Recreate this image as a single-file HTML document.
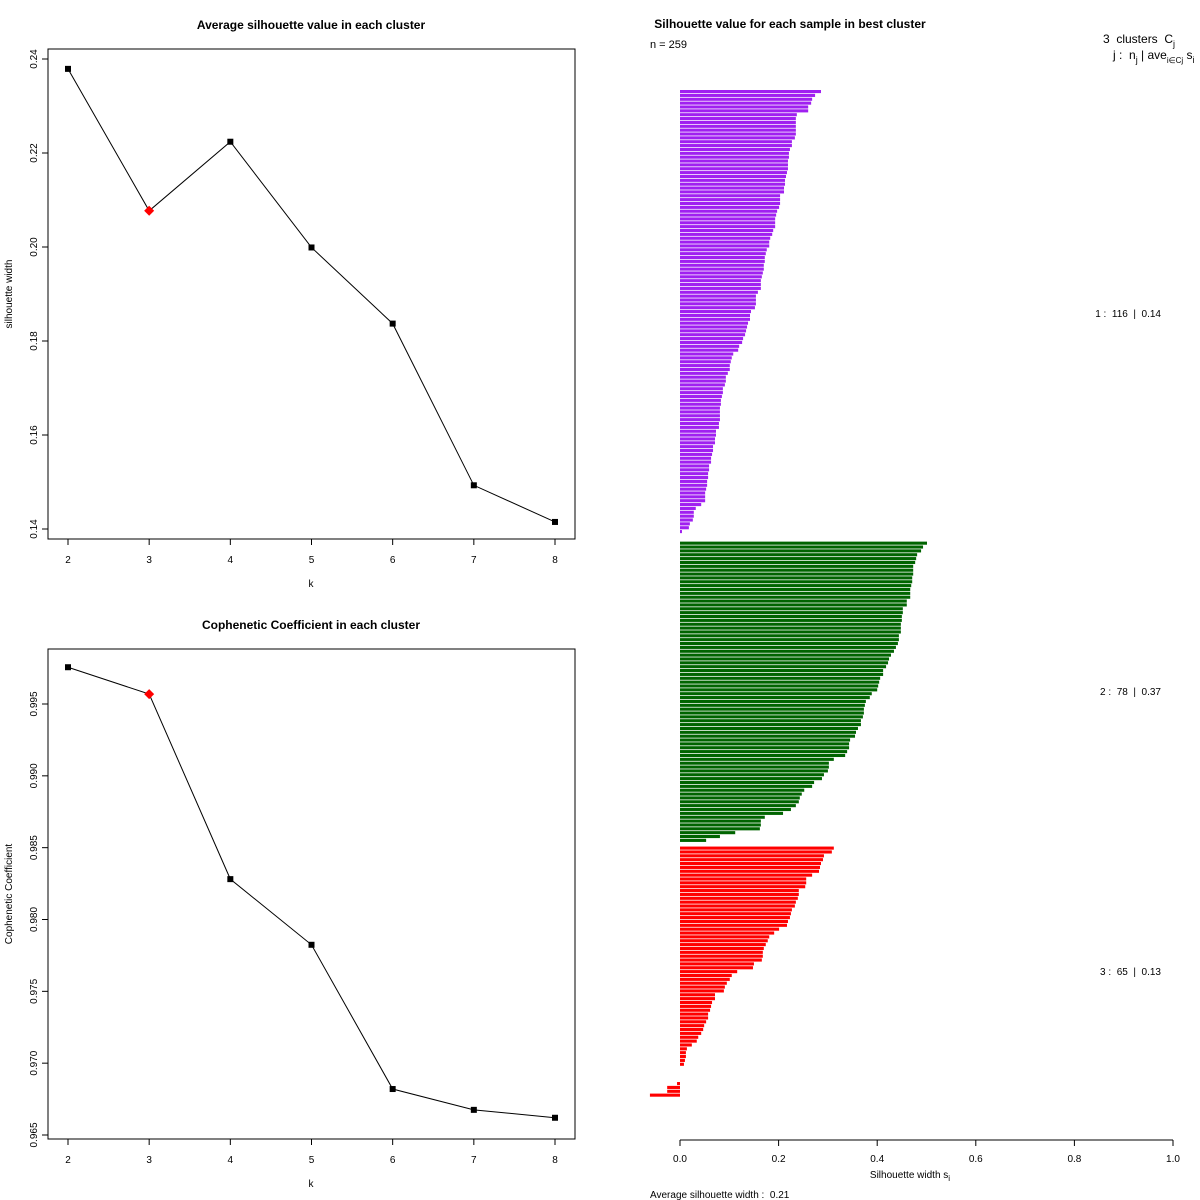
<!DOCTYPE html>
<html><head><meta charset="utf-8"><style>
body{margin:0;background:#fff}
svg{display:block;font-family:"Liberation Sans",sans-serif}
text{white-space:pre}
</style></head><body>
<svg id="c" width="1200" height="1200" viewBox="0 0 1200 1200" xmlns="http://www.w3.org/2000/svg"></svg>
<script>
const kVals=[2,3,4,5,6,7,8];
const silAvg=[0.2379,0.2077,0.2224,0.1999,0.1837,0.1493,0.1415];
const silTicks=[0.14,0.16,0.18,0.20,0.22,0.24];
const cophVals=[0.99756,0.99569,0.98281,0.97824,0.96820,0.96675,0.96620];
const cophTicks=[0.965,0.970,0.975,0.980,0.985,0.990,0.995];
const bestK=3;
const cluster1=[0.286,0.274,0.268,0.266,0.260,0.260,0.237,0.235,0.235,0.235,0.235,0.235,0.233,0.227,0.227,0.223,0.221,0.221,0.219,0.219,0.219,0.217,0.215,0.213,0.213,0.211,0.211,0.203,0.203,0.203,0.201,0.197,0.195,0.193,0.193,0.193,0.189,0.187,0.183,0.181,0.181,0.176,0.174,0.172,0.172,0.170,0.170,0.168,0.166,0.164,0.164,0.164,0.158,0.154,0.154,0.154,0.152,0.144,0.142,0.142,0.138,0.136,0.134,0.132,0.128,0.126,0.120,0.118,0.108,0.105,0.103,0.101,0.101,0.097,0.093,0.093,0.091,0.087,0.087,0.085,0.083,0.083,0.081,0.081,0.081,0.081,0.079,0.079,0.073,0.073,0.071,0.071,0.067,0.067,0.065,0.063,0.063,0.059,0.059,0.057,0.057,0.055,0.055,0.053,0.051,0.051,0.051,0.043,0.032,0.028,0.028,0.026,0.020,0.018,0.004,0,-0.006].slice(0,116);
const cluster2=[0.501,0.493,0.489,0.481,0.479,0.477,0.473,0.473,0.473,0.471,0.471,0.469,0.467,0.467,0.467,0.460,0.460,0.452,0.452,0.450,0.450,0.448,0.448,0.448,0.444,0.444,0.442,0.438,0.434,0.428,0.424,0.422,0.418,0.412,0.412,0.406,0.404,0.402,0.400,0.389,0.385,0.377,0.375,0.373,0.373,0.371,0.367,0.367,0.361,0.357,0.355,0.345,0.343,0.343,0.339,0.335,0.312,0.302,0.302,0.300,0.292,0.288,0.272,0.268,0.252,0.247,0.243,0.241,0.235,0.225,0.209,0.172,0.164,0.164,0.162,0.112,0.081,0.053];
const cluster3=[0.312,0.308,0.292,0.290,0.286,0.284,0.282,0.268,0.256,0.256,0.254,0.241,0.241,0.239,0.235,0.233,0.227,0.225,0.223,0.219,0.217,0.201,0.191,0.181,0.178,0.174,0.170,0.168,0.168,0.166,0.150,0.148,0.116,0.105,0.101,0.095,0.091,0.089,0.071,0.071,0.065,0.063,0.061,0.057,0.057,0.053,0.049,0.047,0.043,0.037,0.034,0.024,0.014,0.012,0.012,0.010,0.008,0,0,0,0,-0.006,-0.026,-0.026,-0.061];
const clusterColors=["#a020f0","#006400","#ff0000"];
const clusterLabels=["1 :  116  |  0.14","2 :  78  |  0.37","3 :  65  |  0.13"];
const xTicksSil=[0,0.2,0.4,0.6,0.8,1.0];

const svg=document.getElementById('c');
const NS="http://www.w3.org/2000/svg";
function mk(tag,attrs,parent){const e=document.createElementNS(NS,tag);for(const k in attrs)e.setAttribute(k,attrs[k]);(parent||svg).appendChild(e);return e;}
function txt(s,x,y,size,anchor,parent,extra){const t=mk('text',Object.assign({x:x,y:y,'font-size':size,'text-anchor':anchor||'middle',fill:'#000'},extra||{}),parent);t.textContent=s;return t;}

function linePanel(name,vals,ticks,tickFmt,y0,y1,v0,v1,title,ylab,yTop){
  const g=mk('g',{});
  
  
  const L=48,R=575,T=yTop,B=yTop+490;
  const xs=k=>68+(k-2)*(555-68)/6;
  const ys=v=>y0+(v-v0)*(y1-y0)/(v1-v0);
  const box=mk('rect',{x:L,y:T,width:R-L,height:B-T,fill:'none',stroke:'#000','stroke-width':1},g);
  
  
  const tt=txt(title,311,T-20,12,'middle',g,{'font-weight':'bold'});
  
  
  const xl=txt('k',311,B+48,10,'middle',g);
  
  
  const yl=txt(ylab,0,0,10,'middle',g,{transform:`translate(12,${(T+B)/2}) rotate(-90)`});
  
  
  mk('line',{x1:L,x2:L,y1:ys(ticks[0]),y2:ys(ticks[ticks.length-1]),stroke:'#000'},g);
  ticks.forEach(t=>{const y=ys(t);mk('line',{x1:L-6,x2:L,y1:y,y2:y,stroke:'#000'},g);
    const tl=txt(tickFmt(t),0,0,10,'middle',g,{transform:`translate(37,${y}) rotate(-90)`});
    
    });
  mk('line',{x1:xs(2),x2:xs(8),y1:B,y2:B,stroke:'#000'},g);
  kVals.forEach(k=>{mk('line',{x1:xs(k),x2:xs(k),y1:B,y2:B+6,stroke:'#000'},g);
    const tl=txt(String(k),xs(k),B+24,10,'middle',g);
    
    });
  const pts=vals.map((v,i)=>xs(kVals[i])+','+ys(v)).join(' ');
  const pl=mk('polyline',{points:pts,fill:'none',stroke:'#000','stroke-width':1},g);
  
  
  vals.forEach((v,i)=>{const x=xs(kVals[i]),y=ys(v);let p;
    if(kVals[i]===bestK){p=mk('polygon',{points:`${x},${y-5} ${x+5},${y} ${x},${y+5} ${x-5},${y}`,fill:'#ff0000'},g);
      }
    else{p=mk('rect',{x:x-3,y:y-3,width:6,height:6,fill:'#000'},g);
      }
    });
}
linePanel('silhouette-panel',silAvg,silTicks,t=>t.toFixed(2),59,529,0.24,0.14,'Average silhouette value in each cluster','silhouette width',49);
linePanel('cophenetic-panel',cophVals,cophTicks,t=>t.toFixed(3),704,1135,0.995,0.965,'Cophenetic Coefficient in each cluster','Cophenetic Coefficient',649);

const sg=mk('g',{});


const bx0=680,bx1=1173;
const xv=v=>bx0+v*(bx1-bx0);
const pitch=3.86,barTop=90;
let slot=0;
[cluster1,cluster2,cluster3].forEach((cl,ci)=>{
  const first=slot;
  cl.forEach(v=>{const y=barTop+slot*pitch;
    const r=mk('rect',{x:Math.min(xv(0),xv(v)),y:y,width:Math.abs(xv(v)-xv(0)),height:3.1,fill:clusterColors[ci]},sg);
    
    
    slot++;});
  const mid=barTop+(first+slot)/2*pitch;
  const lb=txt(clusterLabels[ci],1161,mid+3,10,'end',sg);
  
  
  slot++;
});
mk('line',{x1:xv(0),x2:xv(1),y1:1140,y2:1140,stroke:'#000'},sg);
xTicksSil.forEach(t=>{mk('line',{x1:xv(t),x2:xv(t),y1:1140,y2:1146,stroke:'#000'},sg);
  const tl=txt(t.toFixed(1),xv(t),1162,10,'middle',sg);
  
  });
const st=txt('Silhouette value for each sample in best cluster',790,28,12,'middle',sg,{'font-weight':'bold'});


const nt=txt('n = 259',650,48,11,'start',sg);


const h1=mk('text',{x:1103,y:43,'font-size':12,fill:'#000'},sg);
h1.innerHTML='3  clusters  C<tspan font-size="9" dy="4">j</tspan>';


const h2=mk('text',{x:1113,y:59,'font-size':12,fill:'#000'},sg);
h2.innerHTML='j :  n<tspan font-size="9" dy="4">j</tspan><tspan dy="-4"> | ave</tspan><tspan font-size="8" dy="4">i∈Cj</tspan><tspan dy="-4"> s</tspan><tspan font-size="9" dy="4">i</tspan>';


const xt=mk('text',{x:910,y:1178,'font-size':10,'text-anchor':'middle',fill:'#000'},sg);
xt.innerHTML='Silhouette width s<tspan font-size="8" dy="3">i</tspan>';


const av=txt('Average silhouette width :  0.21',650,1198,10,'start',sg);


</script>
</body></html>
